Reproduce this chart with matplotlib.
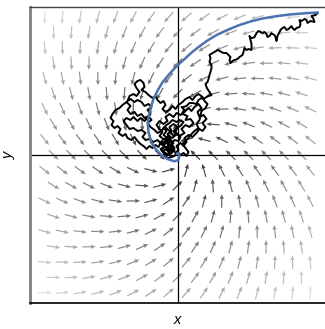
import numpy as np
import matplotlib
matplotlib.use("Agg")
import matplotlib.pyplot as plt

# ---- data (units: axis half-range = 148) ----
# linear spiral-sink field  dx/dt = a11*x + a12*y ,  dy/dt = a21*x + a22*y
field_matrix = [[-1.0, -1.0], [1.0, -1.0]]
# hexagonal grid of arrow centres
grid_step = 17.7
row_step = 15.3
n_rows = 19

# deterministic trajectory (blue)
det_x = [140, 127, 112, 98, 85, 73, 62, 51, 40, 30, 21, 13, 6, 2, -4, -9, -15, -20,
         -24, -26.7, -28.7, -29.7, -29, -26.7, -22.7, -16.7, -10, -3.3, 0.7, 2, 1, -0.5]
det_y = [142.5, 141.7, 140.5, 138.7, 136.5, 133.5, 130, 125.5, 120.5, 114.5, 108,
         101.5, 95, 91.5, 85.5, 80, 72.7, 64.3, 56, 47.7, 39.3, 31, 22.7, 14.3, 7,
         0.3, -4, -6.3, -5, -0.7, 2, 1.5]

# stochastic trajectory (black): descent from the start point ...
descent_x = [140, 138, 134, 136, 137, 133, 130, 129, 127, 124, 122, 123, 122, 119,
             117, 115, 114, 111, 109, 107, 105, 103, 102, 100, 99, 98, 97, 95, 94,
             92, 90, 89, 87, 85, 83, 81, 79, 78, 77, 75, 73, 72, 73, 74, 74, 71, 69,
             67, 66, 65, 62, 60, 57, 55, 53, 52, 53, 51, 49, 46, 44, 42, 40, 37, 35,
             32, 33, 32, 34, 34, 33, 32, 31, 30, 28, 29, 30, 32, 34, 31, 29, 26, 24,
             21, 19, 15, 12, 10, 9, 6, 4]
descent_y = [142, 140, 139, 136, 133, 134, 132, 135, 136, 134, 135, 131, 128, 127,
             125, 127, 129, 126, 125, 128, 127, 125, 123, 119, 114, 118, 120, 121,
             122, 119, 118, 121, 123, 122, 123, 124, 122, 120, 118, 117, 117, 119,
             115, 111, 105, 106, 105, 107, 103, 100, 98, 96, 95, 94, 92, 95, 98, 100,
             102, 102, 103, 104, 105, 103, 102, 100, 97, 93, 90, 87, 83, 80, 76, 73,
             71, 68, 66, 63, 60, 59, 58, 56, 57, 55, 51, 52, 52, 50, 49, 48, 48]
# ... and the wandering around the sink
blob_x = [7, 5, 10, 8, 13, 16, 12, 8, 4, 7, 2, -2, 0, -4, -8, -6, -10, -7, -11, -8,
          -12, -9, -5, -2, 1, -1, 3, 6, 9, 7, 11, 15, 19, 22, 25, 28, 25, 29, 26, 22,
          20, 24, 21, 17, 14, 11, 7, 3, -1, -4, -8, -12, -10, -14, -18, -21, -18, -15,
          -18, -14, -17, -13, -16, -12, -8, -5, -3, -6, -3, 1, 3, 0, -4, -7, -10, -13,
          -16, -20, -23, -27, -30, -26, -29, -33, -36, -40, -43, -47, -50, -47, -51,
          -55, -58, -62, -65, -67, -64, -66, -63, -60, -57, -59, -55, -52, -50, -46,
          -43, -40, -37, -34, -31, -28, -25, -22, -19, -17, -20, -24, -28, -32, -35,
          -32, -36, -40, -44, -48, -51, -54, -51, -47, -44, -40, -37, -33, -30, -27,
          -30, -26, -29, -33, -36, -40, -43, -47, -50, -48, -44, -41, -38, -41, -43,
          -40, -37, -34, -33, -36, -32, -29, -25, -22, -20, -17, -14, -12, -15, -12,
          -8, -5, -2, 1, 5, 8, 12, 15, 18, 21, 25, 27, 30, 28, 24, 22, 19, 21, 17, 14,
          11, 8, 5, 8, 11, 9, 6, 3, 0, -3, -6, -10, -13, -15, -11, -14, -10, -13, -9,
          -5, -2, -4, -1, 3, 6, 2, -1, -5, -8, -11, -14, -11, -14, -10, -6, -9, -6,
          -10, -7, -11, -14, -17, -13, -16, -12, -8, -4, -7, -3, -7, -10, -8]
blob_y = [45, 41, 39, 35, 36, 32, 28, 30, 26, 22, 19, 23, 28, 31, 28, 24, 21, 17, 14,
          10, 7, 3, 6, 2, 5, 9, 12, 9, 13, 17, 20, 18, 22, 26, 24, 28, 32, 36, 40, 38,
          43, 47, 51, 48, 44, 47, 43, 40, 42, 38, 41, 38, 34, 31, 34, 30, 26, 23, 19,
          16, 12, 9, 5, 2, 0, 3, 7, 11, 15, 14, 18, 21, 19, 23, 26, 28, 24, 22, 25, 28,
          32, 35, 39, 37, 41, 39, 43, 41, 45, 49, 53, 50, 47, 45, 41, 37, 34, 30, 27,
          29, 26, 22, 19, 21, 17, 15, 18, 14, 11, 9, 6, 9, 7, 10, 8, 12, 15, 13, 16,
          15, 18, 22, 25, 24, 27, 26, 30, 34, 37, 35, 38, 34, 37, 34, 37, 41, 45, 48,
          51, 49, 53, 55, 53, 56, 54, 59, 61, 59, 63, 67, 71, 74, 75, 72, 68, 65, 63,
          60, 57, 59, 55, 52, 54, 50, 46, 43, 45, 49, 46, 50, 53, 56, 58, 55, 59, 61,
          58, 54, 51, 47, 44, 35, 31, 27, 24, 21, 17, 14, 11, 7, 3, -1, 2, 0, 3, -1,
          -2, -3, 0, 4, 6, 10, 13, 16, 19, 17, 20, 24, 27, 29, 33, 35, 33, 35, 32, 30,
          27, 24, 20, 17, 14, 11, 8, 5, 2, 0, 3, 6, 8, 11, 14, 16, 12, 9, 5, 4, 8, 13]

x_label = "x"
y_label = "y"

# ---- figure ----
fig = plt.figure(figsize=(3.25, 3.29), dpi=100)
ax = fig.add_axes([30 / 325, 26 / 329, 295 / 325, 296 / 329])

# hexagonal grid
gx, gy = [], []
for i in range(n_rows):
    yv = (n_rows // 2 - i) * row_step
    if i % 2 == 0:
        cols = (np.arange(16) - 7.5) * grid_step
    else:
        cols = (np.arange(15) - 7) * grid_step
    gx.extend(cols)
    gy.extend([yv] * len(cols))
gx = np.array(gx)
gy = np.array(gy)
A = np.array(field_matrix)
U = A[0, 0] * gx + A[0, 1] * gy
V = A[1, 0] * gx + A[1, 1] * gy
mag = np.hypot(U, V)
L = 13.5
Un = U / mag * L
Vn = V / mag * L
r = np.hypot(gx, gy) / 148.0
g = np.clip(0.2 + 0.376 * r + 0.113 * r ** 2, 0, 0.95)
cols_rgb = np.stack([g, g, g], axis=1)

ax.quiver(gx, gy, Un, Vn, color=cols_rgb, angles='xy', scale_units='xy', scale=1,
          pivot='middle', width=0.0040, headwidth=3.6, headlength=4.2,
          headaxislength=3.8, zorder=1)

ax.axhline(0, color='black', lw=0.9, zorder=2)
ax.axvline(0, color='black', lw=0.9, zorder=2)

sx = descent_x + blob_x
sy = descent_y + blob_y
ax.plot(sx, sy, color='black', lw=1.4, zorder=3)
ax.plot(det_x, det_y, color='#4c72b0', lw=1.8, zorder=4)

ax.set_xlim(-147.5, 147.5)
ax.set_ylim(-148, 148)
ax.set_xticks([])
ax.set_yticks([])
ax.spines['right'].set_visible(False)
ax.spines['left'].set_color('#808080')
ax.spines['left'].set_linewidth(2.0)
ax.spines['top'].set_color('#404040')
ax.spines['top'].set_linewidth(1.0)
ax.spines['bottom'].set_color('black')
ax.spines['bottom'].set_linewidth(1.2)

ax.set_xlabel(x_label, fontsize=10.5, style='italic', family='Liberation Sans', labelpad=7)
ax.set_ylabel(y_label, fontsize=10.5, style='italic', family='Liberation Sans', labelpad=10)

fig.savefig("out.png", dpi=100)
